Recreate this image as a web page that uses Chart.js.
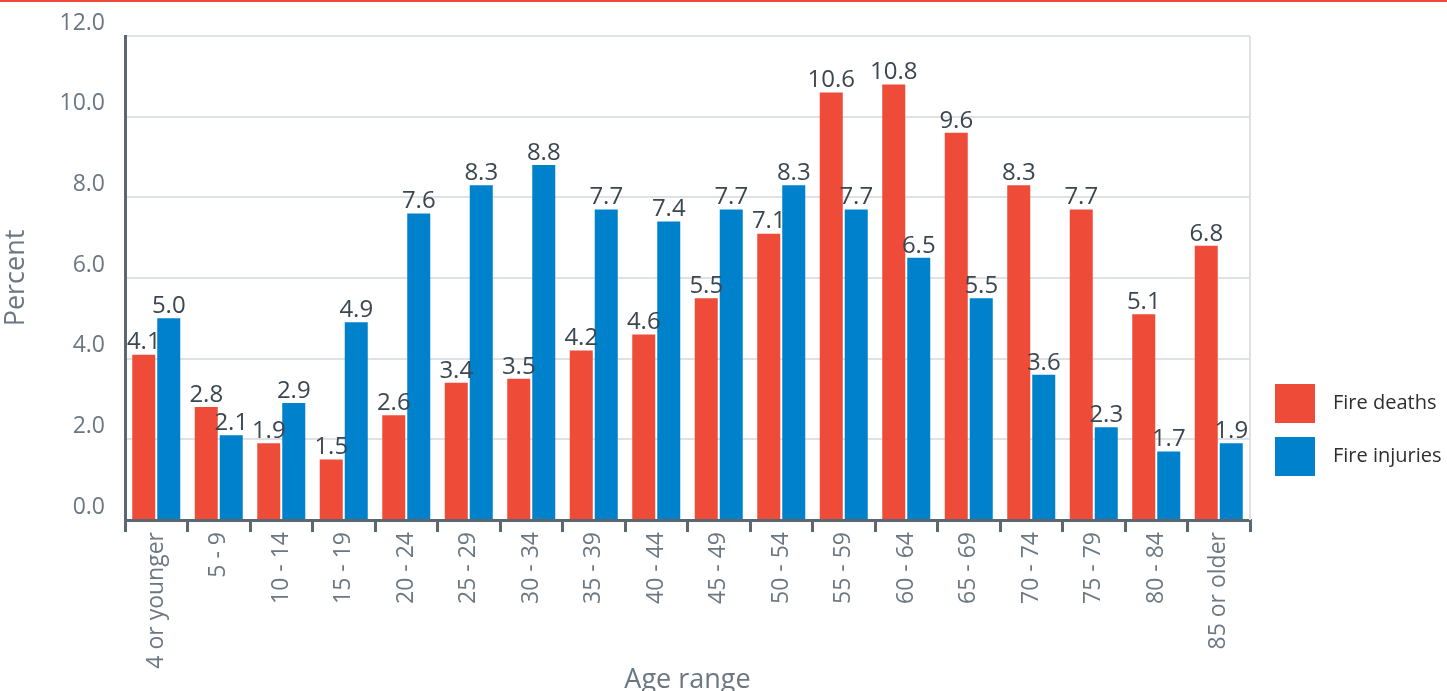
<!DOCTYPE html>
<html>
<head>
<meta charset="utf-8">
<script src="https://cdn.jsdelivr.net/npm/chart.js@4/dist/chart.umd.min.js"></script>
<style>
  html, body { margin: 0; padding: 0; background: #fff; }
  #wrap { position: relative; width: 1447px; height: 691px; }
  #topline { position: absolute; left: 0; top: 0; width: 1447px; height: 2px; background: #ee4b38; }
</style>
</head>
<body>
<div id="wrap">
  <div id="topline"></div>
  <canvas id="chart" width="1447" height="691"></canvas>
</div>
<script>
const ageRanges = ['4 or younger', '5 - 9', '10 - 14', '15 - 19', '20 - 24', '25 - 29', '30 - 34', '35 - 39',
  '40 - 44', '45 - 49', '50 - 54', '55 - 59', '60 - 64', '65 - 69', '70 - 74', '75 - 79', '80 - 84', '85 or older'];
const fireDeaths = [4.1, 2.8, 1.9, 1.5, 2.6, 3.4, 3.5, 4.2, 4.6, 5.5, 7.1, 10.6, 10.8, 9.6, 8.3, 7.7, 5.1, 6.8];
const fireInjuries = [5.0, 2.1, 2.9, 4.9, 7.6, 8.3, 8.8, 7.7, 7.4, 7.7, 8.3, 7.7, 6.5, 5.5, 3.6, 2.3, 1.7, 1.9];

const red = '#ee4b38';
const blue = '#0081cb';
const font = "'Open Sans', sans-serif";

// value labels above each bar
const valueLabels = {
  id: 'valueLabels',
  afterDatasetsDraw(chart) {
    const ctx = chart.ctx;
    ctx.save();
    ctx.font = '24px ' + font;
    ctx.fillStyle = '#3b4650';
    ctx.textAlign = 'center';
    ctx.textBaseline = 'bottom';
    chart.data.datasets.forEach((ds, i) => {
      chart.getDatasetMeta(i).data.forEach((bar, j) => {
        ctx.fillText(ds.data[j].toFixed(1), bar.x, bar.y);
      });
    });
    ctx.restore();
  }
};

// right border of plot + legend on the right
const extras = {
  id: 'extras',
  beforeDatasetsDraw(chart) {
    const a = chart.chartArea;
    const ctx = chart.ctx;
    ctx.save();
    ctx.strokeStyle = '#dfe2e5';
    ctx.lineWidth = 2;
    ctx.beginPath();
    ctx.moveTo(a.right, a.top);
    ctx.lineTo(a.right, a.bottom);
    ctx.stroke();
    ctx.restore();
  },
  afterDraw(chart) {
    const ctx = chart.ctx;
    ctx.save();
    ctx.font = '20px ' + font;
    ctx.textBaseline = 'middle';
    chart.data.datasets.forEach((ds, i) => {
      const y = 384 + i * 53;
      ctx.fillStyle = ds.backgroundColor;
      ctx.fillRect(1275, y, 40, 39);
      ctx.fillStyle = '#2e2e2e';
      ctx.fillText(ds.label, 1333, y + 19);
    });
    ctx.restore();
  }
};

new Chart(document.getElementById('chart').getContext('2d'), {
  type: 'bar',
  data: {
    labels: ageRanges,
    datasets: [
      { label: 'Fire deaths', data: fireDeaths, backgroundColor: red, categoryPercentage: 0.8, barPercentage: 0.92 },
      { label: 'Fire injuries', data: fireInjuries, backgroundColor: blue, categoryPercentage: 0.8, barPercentage: 0.92 }
    ]
  },
  options: {
    responsive: false,
    animation: false,
    layout: { padding: { top: 36, right: 197, left: 0, bottom: 0 } },
    plugins: {
      legend: { display: false },
      tooltip: { enabled: false }
    },
    scales: {
      x: {
        grid: { drawOnChartArea: false, drawTicks: true, tickLength: 12, color: '#5d6770', lineWidth: 3 },
        border: { color: '#5d6770', width: 3 },
        ticks: { color: '#6b7782', font: { family: font, size: 23 }, minRotation: 90, maxRotation: 90, autoSkip: false, padding: 0 },
        title: { display: true, text: 'Age range', color: '#6b7782', font: { family: font, size: 27 }, padding: { top: 0, bottom: -6 } },
        afterFit(scale) { scale.height = 171; }
      },
      y: {
        min: 0,
        max: 12,
        grid: { color: '#dfe2e5', lineWidth: 2, drawTicks: false },
        border: { color: '#5d6770', width: 3 },
        ticks: { stepSize: 2, color: '#6b7782', font: { family: font, size: 23 }, padding: 20, labelOffset: -13,
          callback: v => v.toFixed(1) },
        title: { display: true, text: 'Percent', color: '#6b7782', font: { family: font, size: 27 }, padding: { top: 0, bottom: 0 } },
        afterFit(scale) { scale.width = 125; }
      }
    }
  },
  plugins: [valueLabels, extras]
});
</script>
</body>
</html>
